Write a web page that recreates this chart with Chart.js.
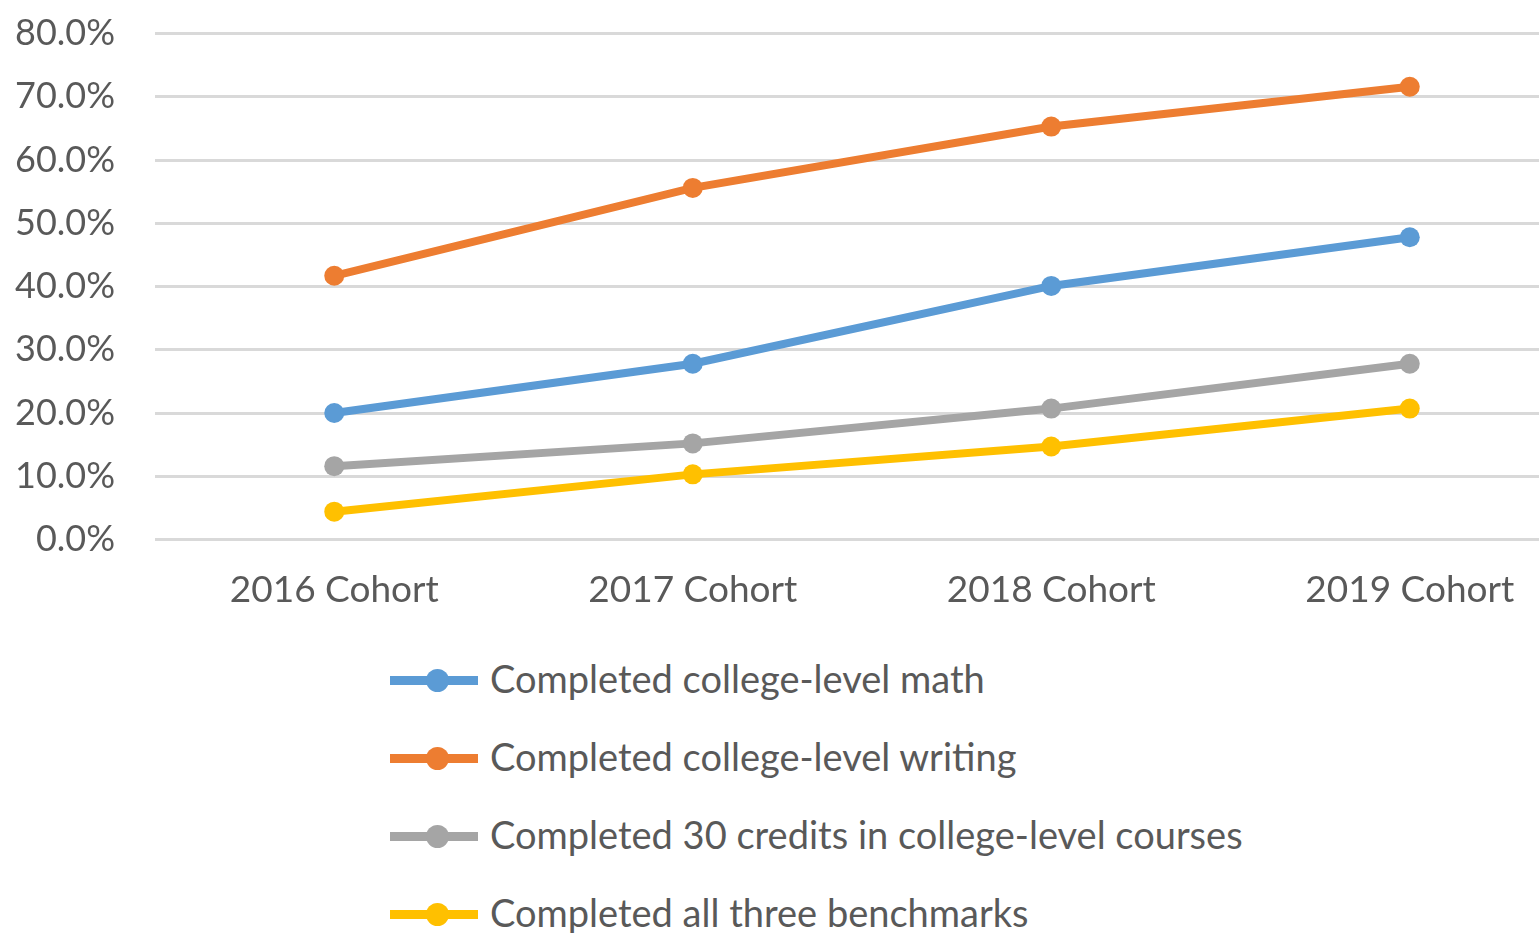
<!DOCTYPE html>
<html>
<head>
<meta charset="utf-8">
<script src="https://cdn.jsdelivr.net/npm/chart.js@4.4.1/dist/chart.umd.min.js"></script>
<style>
  body { margin: 0; background: #fff; overflow: hidden; width: 1539px; height: 933px; position: relative; }
  #wrap { position: absolute; left: 0; top: -28px; width: 1600px; height: 648px; }
  #legend { position: absolute; left: 390px; top: 654px; font-family: Lato, sans-serif; font-size: 38px; color: #595959; }
  .item { height: 78px; display: flex; align-items: flex-start; }
  .mark { position: relative; width: 88px; height: 40px; margin-right: 12px; }
  .mark .ln { position: absolute; left: 0; right: 0; top: 22px; height: 9px; }
  .mark .dot { position: absolute; left: 36px; top: 15px; width: 23px; height: 23px; border-radius: 50%; }
  .txt { line-height: 48px; white-space: nowrap; }
</style>
</head>
<body>
<div id="wrap"><canvas id="lineChart"></canvas></div>
<div id="legend"></div>
<script>
const cohorts = ['2016 Cohort', '2017 Cohort', '2018 Cohort', '2019 Cohort']
const seriesNames = [
  'Completed college-level math',
  'Completed college-level writing',
  'Completed 30 credits in college-level courses',
  'Completed all three benchmarks'
]
// percent values
const mathPct = [20.0, 27.8, 40.1, 47.8]
const writingPct = [41.7, 55.6, 65.3, 71.6]
const creditsPct = [11.6, 15.2, 20.7, 27.8]
const allThreePct = [4.4, 10.3, 14.7, 20.7]
const colors = ['#5B9BD5', '#ED7D31', '#A5A5A5', '#FFC000']
const yTicks = [0, 10, 20, 30, 40, 50, 60, 70, 80]

const values = [mathPct, writingPct, creditsPct, allThreePct]

const textColor = '#595959'
const fontFamily = 'Lato, sans-serif'

const datasets = values.map(function (v, i) {
  return {
    label: seriesNames[i],
    data: v,
    borderColor: colors[i],
    backgroundColor: colors[i],
    borderWidth: 8,
    pointRadius: 10,
    pointHoverRadius: 10,
    pointBorderWidth: 0,
    tension: 0
  }
})

// html legend, one entry per row like the original
const htmlLegend = {
  id: 'htmlLegend',
  afterUpdate(chart) {
    const box = document.getElementById('legend')
    box.innerHTML = ''
    chart.data.datasets.forEach(function (ds) {
      const row = document.createElement('div')
      row.className = 'item'
      row.innerHTML = '<div class="mark"><div class="ln" style="background:' + ds.borderColor + '"></div>' +
        '<div class="dot" style="background:' + ds.borderColor + '"></div></div>' +
        '<div class="txt">' + ds.label + '</div>'
      box.appendChild(row)
    })
  }
}

const ctx = document.getElementById('lineChart').getContext('2d')
const lineChart = new Chart(ctx, {
  type: 'line',
  data: { labels: cohorts, datasets: datasets },
  plugins: [htmlLegend],
  options: {
    responsive: true,
    maintainAspectRatio: false,
    animation: false,
    layout: { padding: { top: 5, right: 11, left: 0, bottom: 0 } },
    plugins: {
      legend: { display: false },
      tooltip: { enabled: false }
    },
    scales: {
      x: {
        offset: true,
        grid: { display: false, drawTicks: false },
        border: { display: false },
        ticks: { color: textColor, font: { family: fontFamily, size: 37 }, padding: 28, maxRotation: 0 },
        afterFit: function (s) { s.height = 80.5 }
      },
      y: {
        min: 0,
        max: 80,
        afterBuildTicks: function (s) { s.ticks = yTicks.map(function (v) { return { value: v } }) },
        grid: { color: '#D9D9D9', lineWidth: 3, drawTicks: false },
        border: { display: false },
        ticks: {
          color: textColor,
          font: { family: fontFamily, size: 36 },
          padding: 40,
          callback: function (v) { return v.toFixed(1) + '%' }
        },
        afterFit: function (s) { s.width = 155 }
      }
    }
  }
})
</script>
</body>
</html>
